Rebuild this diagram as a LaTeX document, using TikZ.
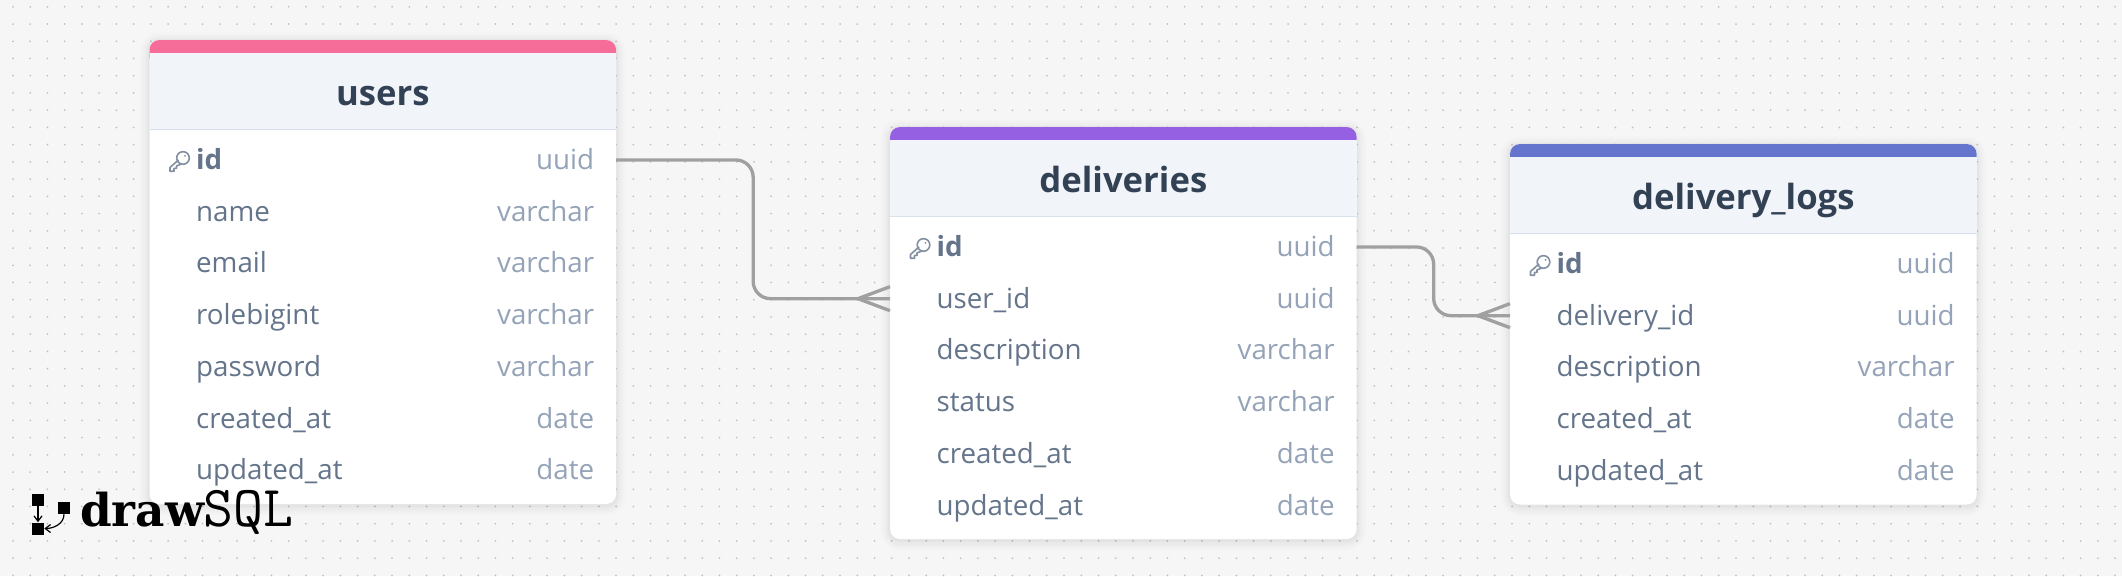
\documentclass[tikz,border=0pt]{standalone}
\usepackage{fontspec}
\setmainfont{Open Sans}
\newfontfamily\logodraw{DejaVu Serif}
\usetikzlibrary{arrows.meta, positioning, calc}
\definecolor{cpink}{HTML}{F76D9A}
\definecolor{cpurple}{HTML}{9561E2}
\definecolor{cindigo}{HTML}{6574CD}
\definecolor{chead}{HTML}{F1F5F9}
\definecolor{cborder}{HTML}{D9E2EC}
\definecolor{ctitle}{HTML}{334155}
\definecolor{cname}{HTML}{64748B}
\definecolor{ctype}{HTML}{94A3B8}
\definecolor{cline}{HTML}{A0A0A0}
\definecolor{cpage}{HTML}{F6F6F6}
\definecolor{cdot}{HTML}{C2C2C2}

\begin{document}
\begin{tikzpicture}[
  x=0.75pt, y=-0.75pt,
  card/.style={anchor=north west, fill=white, rounded corners=7.5pt, minimum width=350pt,
               inner sep=0pt, outer sep=0pt,
               preaction={draw=black, draw opacity=.012, line width=14pt, transform canvas={yshift=-1.5pt}},
               preaction={draw=black, draw opacity=.015, line width=10pt, transform canvas={yshift=-1.5pt}},
               preaction={draw=black, draw opacity=.02, line width=6pt, transform canvas={yshift=-1.5pt}},
               preaction={draw=black, draw opacity=.025, line width=3pt, transform canvas={yshift=-1pt}}},
  topbar/.style={anchor=north west, rounded corners=7.5pt, minimum width=350pt, minimum height=20pt,
                 inner sep=0pt, outer sep=0pt},
  head/.style={anchor=north west, fill=chead, minimum width=350pt, minimum height=57.5pt, inner sep=0pt, outer sep=0pt,
               text=ctitle, text height=39.3pt, text depth=18.2pt, font=\fontsize{26}{30}\selectfont\bfseries},
  headrule/.style={draw=cborder, line width=1.2pt},
  row/.style={text=cname, font=\fontsize{20.8}{24}\selectfont, text width=280pt, inner xsep=35pt, inner ysep=0pt,
              outer sep=0pt, text height=26.5pt, text depth=12.3pt, align=left},
  key/.style={row, font=\fontsize{20.8}{24}\selectfont\bfseries},
  typelab/.style={text=ctype, font=\fontsize{20.8}{24}\selectfont, anchor=east, inner sep=0pt, outer sep=0pt, xshift=-16.5pt,
                  text height=26.5pt, text depth=12.3pt},
  ctype/.style={label={[typelab]east:#1}},
  rel/.style={draw=cline, line width=2.5pt},
  crow/.style={draw=cline, line width=2.5pt},
  keyicon/.pic={
    \draw[cname!80, line width=1.2pt, line join=round] (3.5,-3.5) circle (6.3)
      (-1,-1.5) -- (-9.5,6) -- (-9.5,9.8) -- (-5.5,9.8) -- (-5.5,7) -- (-3,7) -- (-3,4.5) -- (1.5,2.7);
    \fill[cname!80] (5.5,-5.5) circle (1);
  },
  logobox/.style={fill=black, inner sep=0pt, minimum size=9pt},
  logoarr/.style={-{Straight Barb[length=4pt, width=6pt]}, draw=black, line width=0.9pt},
  ]
\useasboundingbox (0,0) rectangle (2122,576);
\fill[cpage] (0,0) rectangle (2122,576);
\foreach \i in {0,...,122} \foreach \j in {0,...,33}
  \fill[cdot] ({13+17.23*\i},{6.8+17.23*\j}) circle (1);

% users
\node[card, minimum height=348pt] (users) at (149.5,40) {};
\node[topbar, fill=cpink] (usersbar) at (users.north west) {};
\node[head] (usershead) at (149.5,53) {users};
\draw[headrule] (usershead.south west) -- (usershead.south east);
\node[key, ctype=uuid, below=3.3pt of usershead] (usersid) {id};
\node[row, ctype=varchar, below=0pt of usersid] (usersname) {name};
\node[row, ctype=varchar, below=0pt of usersname] (usersemail) {email};
\node[row, ctype=varchar, below=0pt of usersemail] (usersrole) {rolebigint};
\node[row, ctype=varchar, below=0pt of usersrole] (userspass) {password};
\node[row, ctype=date, below=0pt of userspass] (userscreated) {created\_at};
\node[row, ctype=date, below=0pt of userscreated] (usersupdated) {updated\_at};
\pic at ($(usersid.west)+(30,1.5)$) {keyicon};

% deliveries
\node[card, minimum height=309pt] (deliv) at (890,127) {};
\node[topbar, fill=cpurple] (delivbar) at (deliv.north west) {};
\node[head] (delivhead) at (890,140) {deliveries};
\draw[headrule] (delivhead.south west) -- (delivhead.south east);
\node[key, ctype=uuid, below=3.3pt of delivhead] (delivid) {id};
\node[row, ctype=uuid, below=0pt of delivid] (delivuser) {user\_id};
\node[row, ctype=varchar, below=0pt of delivuser] (delivdesc) {description};
\node[row, ctype=varchar, below=0pt of delivdesc] (delivstatus) {status};
\node[row, ctype=date, below=0pt of delivstatus] (delivcreated) {created\_at};
\node[row, ctype=date, below=0pt of delivcreated] (delivupdated) {updated\_at};
\pic at ($(delivid.west)+(30,1.5)$) {keyicon};

% delivery_logs
\node[card, minimum height=270.4pt] (logs) at (1510,144) {};
\node[topbar, fill=cindigo] (logsbar) at (logs.north west) {};
\node[head] (logshead) at (1510,157) {delivery\_logs};
\draw[headrule] (logshead.south west) -- (logshead.south east);
\node[key, ctype=uuid, below=3.3pt of logshead] (logsid) {id};
\node[row, ctype=uuid, below=0pt of logsid] (logsdeliv) {delivery\_id};
\node[row, ctype=varchar, below=0pt of logsdeliv] (logsdesc) {description};
\node[row, ctype=date, below=0pt of logsdesc] (logscreated) {created\_at};
\node[row, ctype=date, below=0pt of logscreated] (logsupdated) {updated\_at};
\pic at ($(logsid.west)+(30,1.5)$) {keyicon};

% relations
\draw[rel, rounded corners=13pt] (usersid.east) -- ++(137,0) |- (delivuser.west);
\draw[crow] ($(delivuser.west)+(-32,0)$) -- ($(delivuser.west)+(0,-12)$);
\draw[crow] ($(delivuser.west)+(-32,0)$) -- ($(delivuser.west)+(0,12)$);
\draw[rel, rounded corners=13pt] (delivid.east) -- ++(77,0) |- (logsdeliv.west);
\draw[crow] ($(logsdeliv.west)+(-32,0)$) -- ($(logsdeliv.west)+(0,-12)$);
\draw[crow] ($(logsdeliv.west)+(-32,0)$) -- ($(logsdeliv.west)+(0,12)$);

% logo
\node[logobox] (logoa) at (38,500) {};
\node[logobox] (logob) at (64,508) {};
\node[logobox] (logoc) at (38,528.5) {};
\draw[logoarr] (logoa) -- (logoc);
\draw[logoarr] (logob.south) to[out=-90, in=0] (logoc.east);
\node[anchor=base west, inner sep=0pt, font=\logodraw\fontsize{34}{36}\selectfont\bfseries] (logodraw) at (80,526) {draw};
\node[anchor=base west, inner sep=0pt, font=\ttfamily\fontsize{43.5}{46}\selectfont] (logosql) at (203,526) {SQL};
\end{tikzpicture}
\end{document}
